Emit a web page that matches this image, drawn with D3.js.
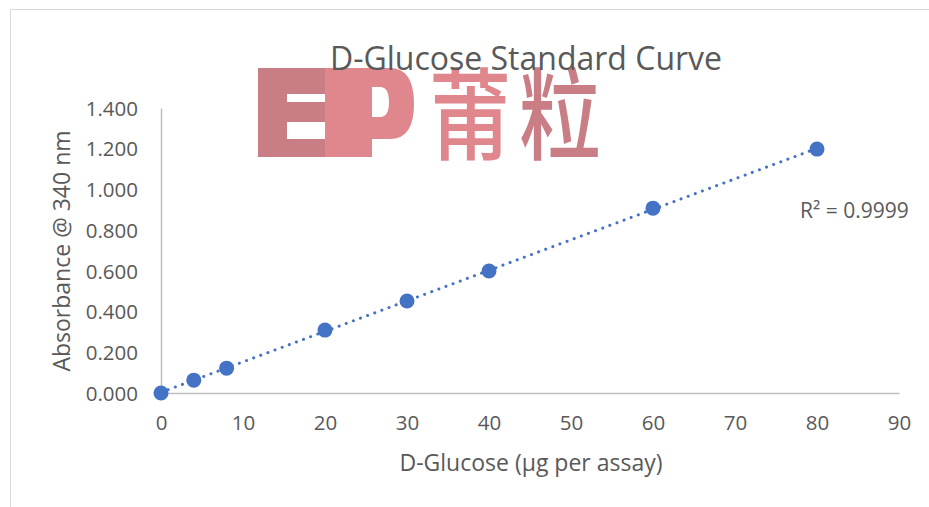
<!DOCTYPE html>
<html>
<head>
<meta charset="utf-8">
<script src="https://cdn.jsdelivr.net/npm/d3@7"></script>
<style>
  body { margin: 0; background: #fff; }
  text { font-family: 'Open Sans', sans-serif; }
</style>
</head>
<body>
<script>
const width = 929;
const height = 507;

// data
const glucose = [0, 4, 8, 20, 30, 40, 60, 80];
const absorbance = [0.000, 0.063, 0.122, 0.309, 0.452, 0.599, 0.908, 1.198];
const xTicks = [0, 10, 20, 30, 40, 50, 60, 70, 80, 90];
const yTicks = [0, 0.2, 0.4, 0.6, 0.8, 1.0, 1.2, 1.4];
const rSquaredLabel = 'R² = 0.9999';

const textColor = '#595959';

const svg = d3.select('body').append('svg')
  .attr('width', width)
  .attr('height', height);

// chart frame (only left and top edges fall inside the picture)
svg.append('rect')
  .attr('x', 10.5).attr('y', 9.5)
  .attr('width', width + 20).attr('height', height + 20)
  .attr('fill', 'none')
  .attr('stroke', '#d9d9d9');

const x = d3.scaleLinear().domain([0, 90]).range([161, 899]);
const y = d3.scaleLinear().domain([0, 1.4]).range([393, 108]);

// axes
const xAxis = svg.append('g')
  .attr('transform', `translate(0,${y(0)})`)
  .call(d3.axisBottom(x).tickValues(xTicks).tickSize(0).tickPadding(22).tickFormat(d3.format('d')));
const yAxis = svg.append('g')
  .attr('transform', `translate(${x(0)},0)`)
  .call(d3.axisLeft(y).tickValues(yTicks).tickSize(0).tickPadding(23).tickFormat(d3.format('.3f')));

[xAxis, yAxis].forEach(g => {
  g.select('.domain').attr('stroke', '#bfbfbf').attr('stroke-width', 1.5);
  g.selectAll('text')
    .style('font-size', '20.5px')
    .style('fill', textColor)
    .style('font-family', "'Open Sans', sans-serif");
});
yAxis.selectAll('text').attr('dy', '0.35em');

// linear trendline (least squares)
const mx = d3.mean(glucose);
const my = d3.mean(absorbance);
const slope = d3.sum(glucose, (v, i) => (v - mx) * (absorbance[i] - my)) / d3.sum(glucose, v => (v - mx) ** 2);
const intercept = my - slope * mx;
const trend = d3.extent(glucose).map(v => [v, intercept + slope * v]);

svg.append('path')
  .datum(trend)
  .attr('d', d3.line().x(d => x(d[0])).y(d => y(d[1])))
  .attr('fill', 'none')
  .attr('stroke', '#4472c4')
  .attr('stroke-width', 3)
  .attr('stroke-linecap', 'round')
  .attr('stroke-dasharray', '0.1 7.5');

svg.append('g')
  .selectAll('circle')
  .data(glucose)
  .enter().append('circle')
    .attr('cx', d => x(d))
    .attr('cy', (d, i) => y(absorbance[i]))
    .attr('r', 7.5)
    .attr('fill', '#4472c4');

svg.append('text')
  .attr('x', 800).attr('y', 218)
  .style('font-size', '21px')
  .style('fill', textColor)
  .text(rSquaredLabel);

// axis titles
svg.append('text')
  .attr('x', 531).attr('y', 471)
  .attr('text-anchor', 'middle')
  .style('font-size', '23px')
  .style('fill', textColor)
  .text('D-Glucose (µg per assay)');

svg.append('text')
  .attr('transform', `translate(70,${251}) rotate(-90)`)
  .attr('text-anchor', 'middle')
  .style('font-size', '23px')
  .style('fill', textColor)
  .text('Absorbance @ 340 nm');

// watermark
const wm = svg.append('g');
const rose = '#c97e85';
const pink = '#e0878e';
wm.append('path')
  .attr('d', 'M258,68H325V94H287V102H325V122H287V139H325V157H258Z')
  .attr('fill', rose);
wm.append('path')
  .attr('d', 'M325,68H390Q414,68 414,104Q414,139 390,139H372V157H325Z M372,87V117H380Q389,117 389,102Q389,87 380,87Z')
  .attr('fill', pink)
  .attr('fill-rule', 'evenodd');
wm.append('text')
  .attr('x', 429).attr('y', 152)
  .attr('textLength', 82)
  .attr('lengthAdjust', 'spacingAndGlyphs')
  .style('font-family', "'Noto Sans CJK SC', sans-serif")
  .style('font-weight', 500)
  .style('font-size', '100px')
  .style('fill', pink)
  .text('莆');
wm.append('text')
  .attr('x', 519).attr('y', 152)
  .attr('textLength', 82)
  .attr('lengthAdjust', 'spacingAndGlyphs')
  .style('font-family', "'Noto Sans CJK SC', sans-serif")
  .style('font-weight', 500)
  .style('font-size', '100px')
  .style('fill', rose)
  .text('粒');

svg.append('text')
  .attr('x', 526).attr('y', 70)
  .attr('text-anchor', 'middle')
  .style('font-size', '32px')
  .style('fill', textColor)
  .text('D-Glucose Standard Curve');
</script>
</body>
</html>
